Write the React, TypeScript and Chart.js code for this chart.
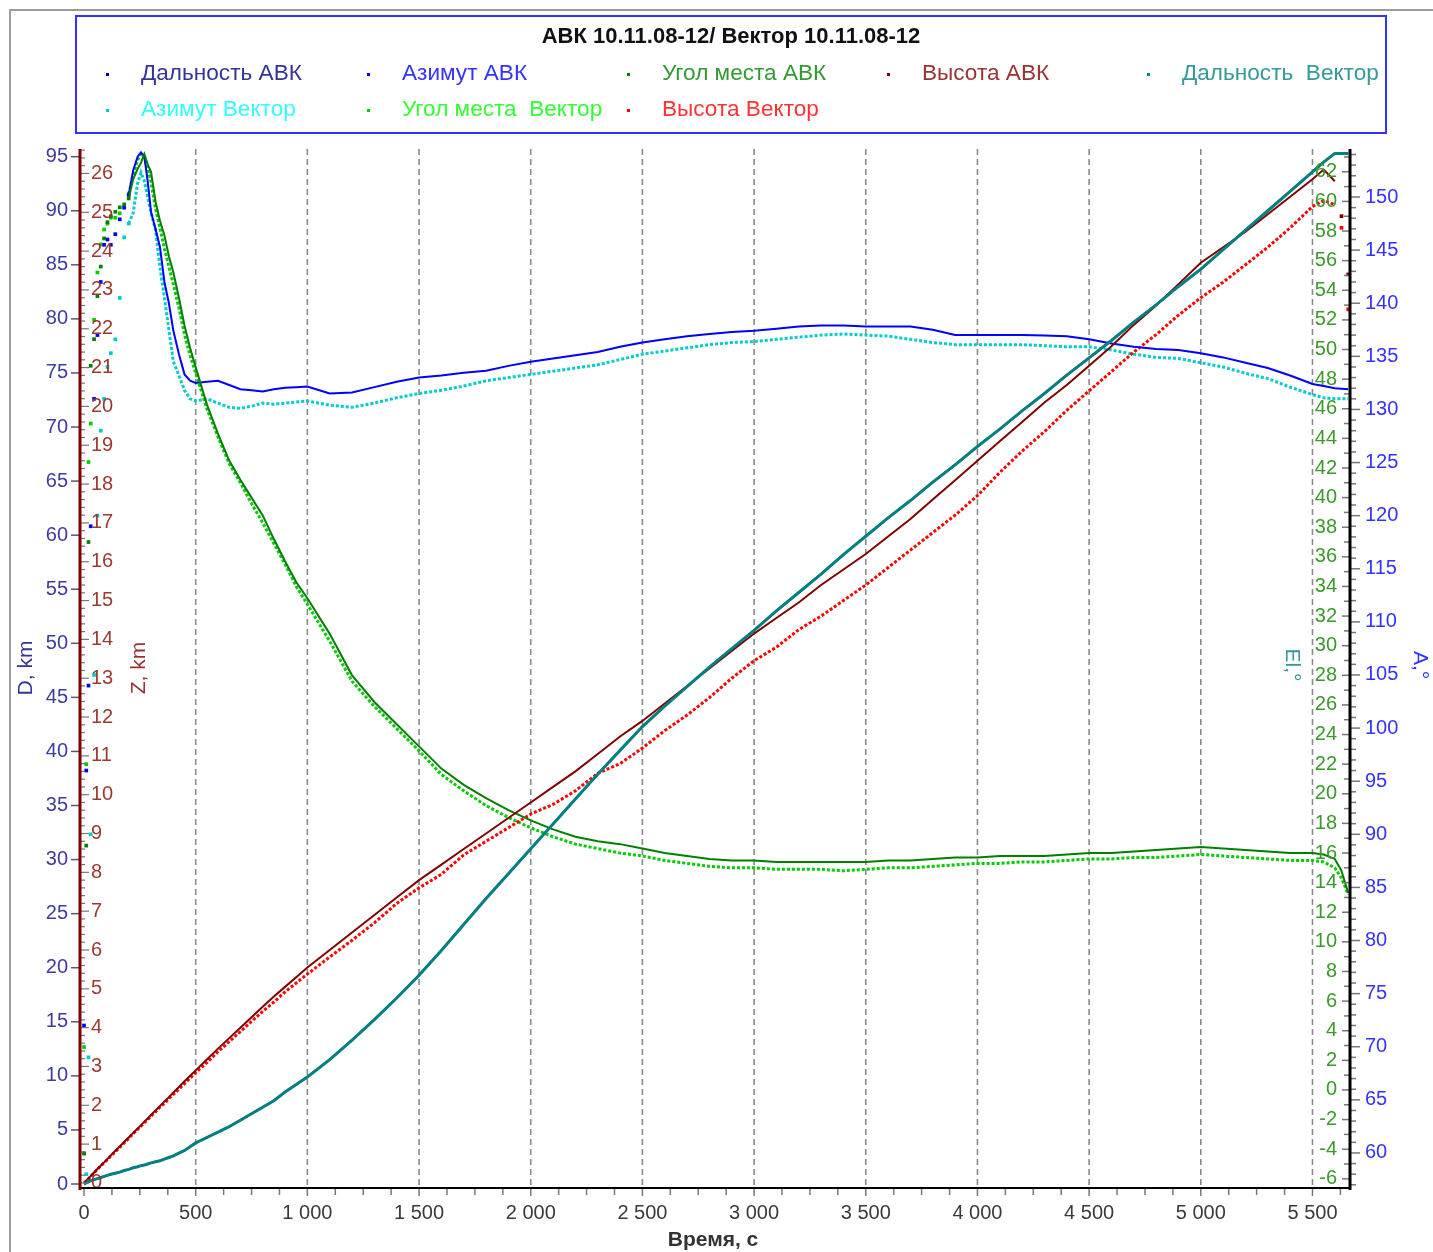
import { useEffect, useRef } from 'react';
import { Chart, registerables } from 'chart.js';

Chart.register(...registerables);

const FONT = "'Liberation Sans', Arial, Helvetica, sans-serif";

// ---------------- data ----------------
const timeSec = [
  0, 10, 20, 30, 45, 60, 75, 90, 105, 120,
  140, 160, 180, 200, 220, 240, 255, 270, 285, 300,
  320, 340, 360, 380, 400, 425, 450, 475, 500,
  550, 600, 650, 700, 750, 800, 850, 900, 950, 1000,
  1100, 1200, 1300, 1400, 1500, 1600, 1700, 1800, 1900, 2000,
  2100, 2200, 2300, 2400, 2500, 2600, 2700, 2800, 2900, 3000,
  3100, 3200, 3300, 3400, 3500, 3600, 3700, 3800, 3900, 4000,
  4100, 4200, 4300, 4400, 4500, 4600, 4700, 4800, 4900, 5000,
  5100, 5200, 5300, 5400, 5500,
  5550, 5600, 5630, 5660,
];

// Дальность, km
const rangeAvk = [
  0, 0.1, 0.2, 0.3, 0.4, 0.5, 0.6, 0.7, 0.8, 0.9,
  1.0, 1.1, 1.25, 1.35, 1.5, 1.6, 1.7, 1.75, 1.85, 1.95,
  2.05, 2.15, 2.3, 2.45, 2.6, 2.85, 3.1, 3.45, 3.8,
  4.3, 4.8, 5.3, 5.9, 6.5, 7.1, 7.7, 8.5, 9.2, 9.9,
  11.5, 13.3, 15.2, 17.2, 19.3, 21.6, 24.0, 26.4, 28.7, 31.0,
  33.3, 35.6, 37.9, 40.1, 42.3, 44.2, 46.0, 47.8, 49.5, 51.2,
  53.0, 54.7, 56.4, 58.2, 59.9, 61.6, 63.2, 64.9, 66.5, 68.2,
  69.8, 71.5, 73.1, 74.8, 76.4, 78.0, 79.7, 81.3, 83.0, 84.6,
  86.4, 88.2, 90.0, 91.8, 93.6,
  94.5, 95.3, 95.3, 95.3,
];
const rangeVector = [
  0, 0.1, 0.2, 0.3, 0.4, 0.5, 0.6, 0.7, 0.8, 0.9,
  1.0, 1.1, 1.25, 1.35, 1.5, 1.6, 1.7, 1.75, 1.85, 1.95,
  2.05, 2.15, 2.3, 2.45, 2.6, 2.85, 3.1, 3.45, 3.8,
  4.3, 4.8, 5.3, 5.9, 6.5, 7.1, 7.7, 8.5, 9.2, 9.9,
  11.5, 13.3, 15.2, 17.2, 19.3, 21.6, 24.0, 26.4, 28.7, 31.0,
  33.3, 35.6, 37.9, 40.1, 42.3, 44.2, 46.0, 47.8, 49.5, 51.2,
  53.0, 54.7, 56.4, 58.2, 59.9, 61.6, 63.2, 64.9, 66.5, 68.2,
  69.8, 71.5, 73.1, 74.8, 76.4, 78.0, 79.7, 81.3, 83.0, 84.6,
  86.4, 88.2, 90.0, 91.8, 93.6,
  94.5, 95.3, 95.3, 95.3,
];

// Азимут, °
const azimuthAvk = [
  72, 96, 104, 119, 131, 137, 142, 145.5, 146, 145.5,
  146.5, 147.9, 149, 150.2, 152.5, 153.8, 154.2, 153.8, 151.5, 148.6,
  147, 145.3, 142, 140, 137.4, 135.2, 133.3, 132.7, 132.5,
  132.6, 132.7, 132.3, 131.9, 131.8, 131.7, 131.9, 132.05, 132.1, 132.15,
  131.5, 131.6, 132.1, 132.6, 133.0, 133.2, 133.45, 133.65, 134.1, 134.5,
  134.8, 135.1, 135.4, 135.9, 136.3, 136.6, 136.9, 137.1, 137.3, 137.4,
  137.6, 137.8, 137.9, 137.9, 137.8, 137.8, 137.8, 137.5, 137.0, 137.0,
  137.0, 137.0, 136.95, 136.9, 136.6, 136.2, 135.9, 135.7, 135.6, 135.3,
  134.9, 134.4, 133.9, 133.2, 132.4,
  132.2, 132.0, 131.95, 131.9,
];
const azimuthVector = [
  60, 58, 69, 90, 105, 120, 128, 131, 134, 135.3,
  136.6, 140.5, 146.2, 147.5, 148.5, 151.3, 152.3, 151.5, 150, 148.5,
  146.9, 143.4, 140.5, 137.5, 134.5, 133.2, 131.8, 131.0, 130.8,
  131.0, 130.6, 130.2, 130.1, 130.3, 130.6, 130.5, 130.6, 130.7, 130.8,
  130.4, 130.2, 130.6, 131.1, 131.5, 131.8, 132.2, 132.7, 133.0, 133.3,
  133.6, 133.9, 134.2, 134.7, 135.2, 135.5, 135.8, 136.1, 136.3, 136.4,
  136.6, 136.8, 137.0, 137.1, 137.0, 136.9, 136.6, 136.3, 136.1, 136.1,
  136.1, 136.1, 136.0, 135.9, 135.9, 135.6, 135.2, 134.9, 134.8, 134.4,
  134.0, 133.4, 132.9, 132.1, 131.4,
  131.1, 131.0, 131.0, 131.0,
];

// Угол места, °
const elevAvk = [
  -4.3, 16.5, 37, 48.9, 50.7, 53.6, 55.6, 57.5, 58.6, 59.0,
  59.3, 59.6, 59.8, 60.2, 61.5, 62.2, 62.6, 63.2, 62.5, 62.0,
  60.0, 58.7, 57.7, 56.3, 55.2, 53.5, 51.6, 50.1, 48.8,
  46.3, 44.3, 42.5, 41.2, 40.0, 38.8, 37.2, 35.7, 34.3, 33.2,
  30.8, 28.0, 26.2, 24.7, 23.2, 21.7, 20.6, 19.7, 18.9, 18.2,
  17.6, 17.1, 16.8, 16.6, 16.3, 16.0, 15.8, 15.6, 15.5, 15.5,
  15.4, 15.4, 15.4, 15.4, 15.4, 15.5, 15.5, 15.6, 15.7, 15.7,
  15.8, 15.8, 15.8, 15.9, 16.0, 16.0, 16.1, 16.2, 16.3, 16.4,
  16.3, 16.2, 16.1, 16.0, 16.0,
  15.9, 15.6, 14.8, 13.3,
];
const elevVector = [
  2.9, 22, 42.4, 45, 52, 55.2, 57.1, 58.1, 58.5, 58.9,
  58.9, 59.2, 59.6, 60.5, 61.8, 62.8, 63.2, 63.0, 62.3, 61.3,
  59.5, 58.2, 56.8, 55.6, 54.4, 52.8, 51.0, 49.6, 48.4,
  46.0, 44.1, 42.3, 41.0, 39.6, 38.3, 36.9, 35.5, 34.0, 32.8,
  30.3, 27.6, 25.9, 24.4, 22.9, 21.3, 20.2, 19.2, 18.4, 17.7,
  17.1, 16.6, 16.3, 16.0, 15.8, 15.5, 15.3, 15.1, 15.0, 15.0,
  14.9, 14.9, 14.9, 14.8, 14.9, 15.0, 15.0, 15.1, 15.2, 15.3,
  15.3, 15.4, 15.4, 15.5, 15.6, 15.6, 15.7, 15.7, 15.8, 15.9,
  15.8, 15.7, 15.6, 15.5, 15.5,
  15.4, 15.0, 14.3, 13.2,
];

// Высота, km
const heightAvk = [
  0, 0.06, 0.12, 0.18, 0.27, 0.36, 0.45, 0.53, 0.62, 0.71,
  0.83, 0.94, 1.06, 1.17, 1.29, 1.4, 1.49, 1.58, 1.66, 1.75,
  1.87, 1.98, 2.1, 2.21, 2.33, 2.47, 2.62, 2.76, 2.9,
  3.18, 3.46, 3.73, 4.0, 4.27, 4.54, 4.8, 5.05, 5.3, 5.55,
  6.0, 6.45, 6.9, 7.35, 7.8, 8.2, 8.6, 9.0, 9.4, 9.8,
  10.2, 10.6, 11.05, 11.5, 11.9, 12.35, 12.8, 13.25, 13.7, 14.15,
  14.55, 14.95, 15.4, 15.8, 16.2, 16.65, 17.1, 17.6, 18.1, 18.6,
  19.1, 19.6, 20.1, 20.55, 21.05, 21.55, 22.1, 22.6, 23.15, 23.7,
  24.1, 24.5, 24.95, 25.4, 25.85,
  26.1, 25.8, 24.9, 23.4,
];
const heightVector = [
  0, 0.05, 0.1, 0.17, 0.26, 0.35, 0.44, 0.52, 0.6, 0.7,
  0.8, 0.92, 1.03, 1.15, 1.27, 1.38, 1.46, 1.55, 1.63, 1.72,
  1.83, 1.95, 2.05, 2.17, 2.28, 2.42, 2.56, 2.7, 2.84,
  3.1, 3.38, 3.64, 3.9, 4.16, 4.42, 4.66, 4.92, 5.15, 5.38,
  5.82, 6.25, 6.7, 7.2, 7.6, 7.95, 8.45, 8.8, 9.15, 9.5,
  9.75, 10.1, 10.55, 10.8, 11.2, 11.65, 12.05, 12.5, 13.0, 13.45,
  13.8, 14.25, 14.6, 15.0, 15.4, 15.85, 16.3, 16.75, 17.2, 17.7,
  18.3, 18.85, 19.35, 19.9, 20.4, 20.9, 21.4, 21.85, 22.35, 22.8,
  23.2, 23.65, 24.1, 24.6, 25.15,
  25.3, 25.2, 24.6, 22.5,
];

// tick labels
const xTickValues = [0, 500, 1000, 1500, 2000, 2500, 3000, 3500, 4000, 4500, 5000, 5500];
const dTickValues = [0, 5, 10, 15, 20, 25, 30, 35, 40, 45, 50, 55, 60, 65, 70, 75, 80, 85, 90, 95];
const zTickValues = [0, 1, 2, 3, 4, 5, 6, 7, 8, 9, 10, 11, 12, 13, 14, 15, 16, 17, 18, 19, 20, 21, 22, 23, 24, 25, 26];
const elTickValues = [-6, -4, -2, 0, 2, 4, 6, 8, 10, 12, 14, 16, 18, 20, 22, 24, 26, 28, 30, 32, 34, 36, 38, 40, 42, 44, 46, 48, 50, 52, 54, 56, 58, 60, 62];
const aTickValues = [60, 65, 70, 75, 80, 85, 90, 95, 100, 105, 110, 115, 120, 125, 130, 135, 140, 145, 150];

const legendTitle = 'АВК 10.11.08-12/ Вектор 10.11.08-12';

// ---------------- layout / style ----------------
const W = 1433;
const H = 1252;
const AREA = { left: 80, right: 1350, top: 149, bottom: 1188 };
const X_RANGE = { min: -18, max: 5668 };
const D_RANGE = { min: -0.37, max: 95.71 };
const Z_RANGE = { min: -0.13, max: 26.63 };
const EL_RANGE = { min: -6.62, max: 63.54 };
const A_RANGE = { min: 56.7, max: 154.52 };

const COL = {
  rangeAvk: '#000099',
  azAvk: '#0000ff',
  elAvk: '#007f00',
  hAvk: '#800000',
  rangeVec: '#008080',
  azVec: '#00cccc',
  elVec: '#00cc00',
  hVec: '#ff0000',
};

type SeriesDef = {
  label: string;
  values: number[];
  axis: string;
  color: string;
  width: number;
  dash: number[];
  dotsTo: number;
  dotsFrom: number;
  order: number;
};

const SERIES: SeriesDef[] = [
  { label: 'Дальность  Вектор', values: rangeVector, axis: 'yD', color: COL.rangeVec, width: 3, dash: [], dotsTo: -1, dotsFrom: 1e9, order: 0 },
  { label: 'Высота АВК', values: heightAvk, axis: 'yZ', color: COL.hAvk, width: 2, dash: [], dotsTo: -1, dotsFrom: 5600, order: 1 },
  { label: 'Угол места АВК', values: elevAvk, axis: 'yEl', color: COL.elAvk, width: 2, dash: [], dotsTo: 200, dotsFrom: 1e9, order: 2 },
  { label: 'Азимут АВК', values: azimuthAvk, axis: 'yA', color: COL.azAvk, width: 2, dash: [], dotsTo: 200, dotsFrom: 1e9, order: 3 },
  { label: 'Дальность АВК', values: rangeAvk, axis: 'yD', color: COL.rangeAvk, width: 2, dash: [], dotsTo: -1, dotsFrom: 1e9, order: 4 },
  { label: 'Высота Вектор', values: heightVector, axis: 'yZ', color: COL.hVec, width: 3, dash: [3, 2], dotsTo: -1, dotsFrom: 5600, order: 5 },
  { label: 'Угол места  Вектор', values: elevVector, axis: 'yEl', color: COL.elVec, width: 3, dash: [3, 2], dotsTo: 200, dotsFrom: 1e9, order: 6 },
  { label: 'Азимут Вектор', values: azimuthVector, axis: 'yA', color: COL.azVec, width: 3, dash: [3, 2], dotsTo: 200, dotsFrom: 1e9, order: 7 },
];

const LEGEND = [
  { text: 'Дальность АВК', color: '#33339a', dot: COL.rangeAvk },
  { text: 'Азимут АВК', color: '#3333ff', dot: COL.azAvk },
  { text: 'Угол места АВК', color: '#339933', dot: COL.elAvk },
  { text: 'Высота АВК', color: '#993333', dot: COL.hAvk },
  { text: 'Дальность  Вектор', color: '#339999', dot: COL.rangeVec },
  { text: 'Азимут Вектор', color: '#33ffff', dot: COL.azVec },
  { text: 'Угол места  Вектор', color: '#33ff33', dot: COL.elVec },
  { text: 'Высота Вектор', color: '#ff3333', dot: COL.hVec },
];
const LEGEND_COLS = [107, 368, 628, 888, 1148];
const LEGEND_ROWS = [73, 109];

function fmtThousands(v: number): string {
  if (Math.abs(v) < 1000) return String(v);
  const th = Math.floor(v / 1000);
  const rest = String(v % 1000).padStart(3, '0');
  return `${th} ${rest}`;
}

function rotText(ctx: CanvasRenderingContext2D, text: string, x: number, y: number, angle: number, color: string, font: string) {
  ctx.save();
  ctx.translate(x, y);
  ctx.rotate(angle);
  ctx.fillStyle = color;
  ctx.font = font;
  ctx.textAlign = 'center';
  ctx.textBaseline = 'middle';
  ctx.fillText(text, 0, 0);
  ctx.restore();
}

const axesPlugin = {
  id: 'radarAxes',
  beforeDatasetsDraw(chart: any) {
    const { ctx, chartArea: a, scales } = chart;
    ctx.save();
    ctx.strokeStyle = '#8a8a8a';
    ctx.lineWidth = 1.6;
    ctx.setLineDash([6, 4]);
    for (const v of xTickValues) {
      if (v === 0) continue;
      const px = scales.x.getPixelForValue(v);
      ctx.beginPath();
      ctx.moveTo(px, a.top);
      ctx.lineTo(px, a.bottom);
      ctx.stroke();
    }
    ctx.restore();
  },
  afterDatasetsDraw(chart: any) {
    const { ctx, chartArea: a, scales } = chart;
    const seg = (x1: number, y1: number, x2: number, y2: number) => {
      ctx.beginPath();
      ctx.moveTo(x1, y1);
      ctx.lineTo(x2, y2);
      ctx.stroke();
    };
    ctx.save();
    ctx.setLineDash([]);

    // D ticks (outside left)
    ctx.strokeStyle = '#555577';
    ctx.lineWidth = 1.5;
    for (const v of dTickValues) {
      const py = scales.yD.getPixelForValue(v);
      seg(a.left - 9, py, a.left - 1, py);
    }

    // Z ticks (inside left)
    ctx.strokeStyle = '#777';
    ctx.lineWidth = 1.2;
    for (let k = 0; k <= 133; k++) {
      const v = k * 0.2;
      const py = scales.yZ.getPixelForValue(v);
      if (py < a.top) break;
      const major = k % 5 === 0;
      seg(a.left + 1, py, a.left + (major ? 9 : 5), py);
    }
    ctx.fillStyle = '#9a3a30';
    ctx.font = `20px ${FONT}`;
    ctx.textAlign = 'left';
    ctx.textBaseline = 'middle';
    for (const v of zTickValues) {
      ctx.fillText(String(v), a.left + 11, scales.yZ.getPixelForValue(v));
    }

    // El ticks (inside right)
    ctx.strokeStyle = '#777';
    ctx.lineWidth = 1.5;
    for (let v = -6; v <= 63; v++) {
      const py = scales.yEl.getPixelForValue(v);
      seg(a.right - (v % 2 === 0 ? 8 : 6), py, a.right - 1, py);
    }
    ctx.fillStyle = '#3a9a2a';
    ctx.textAlign = 'right';
    for (const v of elTickValues) {
      ctx.fillText(String(v), a.right - 13, scales.yEl.getPixelForValue(v));
    }

    // A ticks (outside right)
    ctx.strokeStyle = '#777';
    for (let v = 57; v <= 154; v++) {
      const py = scales.yA.getPixelForValue(v);
      seg(a.right + 1, py, a.right + (v % 5 === 0 ? 10 : 6), py);
    }

    // x ticks
    for (let v = 0; v <= 5625; v += 125) {
      const px = scales.x.getPixelForValue(v);
      seg(px, a.bottom + 1, px, a.bottom + (v % 500 === 0 ? 8 : 7));
    }

    // axis lines
    ctx.strokeStyle = '#000';
    ctx.lineWidth = 2;
    seg(a.left, a.bottom, a.right, a.bottom);
    ctx.lineWidth = 3;
    seg(a.right, a.top, a.right, a.bottom + 2);
    ctx.strokeStyle = '#800000';
    seg(a.left, a.top, a.left, a.bottom + 2);

    // titles
    const tf = `21px ${FONT}`;
    rotText(ctx, 'D, km', 26, 668, -Math.PI / 2, '#333399', tf);
    rotText(ctx, 'Z, km', 139, 668, -Math.PI / 2, '#993333', tf);
    rotText(ctx, 'El,°', 1292, 665, Math.PI / 2, '#339999', tf);
    rotText(ctx, 'A,°', 1420, 665, Math.PI / 2, '#3333ff', tf);
    ctx.fillStyle = '#333';
    ctx.font = `bold 21px ${FONT}`;
    ctx.textAlign = 'center';
    ctx.textBaseline = 'middle';
    ctx.fillText('Время, с', 713, 1240);
    ctx.restore();
  },
};

function hiddenScale(pos: string, range: { min: number; max: number }) {
  return {
    type: 'linear',
    position: pos,
    display: false,
    min: range.min,
    max: range.max,
  };
}

export default function App() {
  const ref = useRef<HTMLCanvasElement>(null);

  useEffect(() => {
    const canvas = ref.current;
    if (!canvas) return;
    const datasets = SERIES.map((s) => ({
      label: s.label,
      data: timeSec.map((t, i) => ({ x: t, y: s.values[i] })),
      yAxisID: s.axis,
      borderColor: s.color,
      backgroundColor: s.color,
      borderWidth: s.width,
      borderDash: s.dash,
      pointStyle: 'rect',
      pointBorderWidth: 0,
      pointRadius: (c: any) => {
        const r = c.raw;
        if (!r) return 0;
        return r.x <= s.dotsTo || r.x > s.dotsFrom ? 2.6 : 0;
      },
      tension: 0,
      order: s.order,
      segment: {
        borderColor: (c: any) =>
          c.p1.parsed.x <= s.dotsTo || c.p0.parsed.x >= s.dotsFrom ? 'rgba(0,0,0,0)' : undefined,
      },
    }));

    const chart = new Chart(canvas, {
      type: 'line',
      data: { datasets } as any,
      options: {
        responsive: false,
        animation: false,
        events: [],
        layout: { padding: { top: AREA.top, left: 0, right: 0, bottom: 0 } },
        plugins: {
          legend: { display: false },
          tooltip: { enabled: false },
          title: { display: false },
        },
        scales: {
          x: {
            type: 'linear',
            position: 'bottom',
            min: X_RANGE.min,
            max: X_RANGE.max,
            afterBuildTicks: (sc: any) => {
              sc.ticks = xTickValues.map((v) => ({ value: v }));
            },
            afterFit: (sc: any) => {
              sc.height = H - AREA.bottom;
            },
            grid: { display: false, drawTicks: false },
            border: { display: false },
            ticks: {
              autoSkip: false,
              maxRotation: 0,
              padding: 13,
              color: '#3a3a3a',
              font: { size: 20, family: FONT },
              callback: (v: any) => fmtThousands(Number(v)),
            },
          },
          yD: {
            type: 'linear',
            position: 'left',
            min: D_RANGE.min,
            max: D_RANGE.max,
            afterBuildTicks: (sc: any) => {
              sc.ticks = dTickValues.map((v) => ({ value: v }));
            },
            afterFit: (sc: any) => {
              sc.width = AREA.left;
            },
            grid: { display: false, drawTicks: false },
            border: { display: false },
            ticks: {
              padding: 12,
              color: '#3c3ca0',
              font: { size: 20, family: FONT },
              callback: (v: any) => String(v),
            },
          },
          yZ: hiddenScale('left', Z_RANGE),
          yEl: hiddenScale('right', EL_RANGE),
          yA: {
            type: 'linear',
            position: 'right',
            min: A_RANGE.min,
            max: A_RANGE.max,
            afterBuildTicks: (sc: any) => {
              sc.ticks = aTickValues.map((v) => ({ value: v }));
            },
            afterFit: (sc: any) => {
              sc.width = W - AREA.right;
            },
            grid: { display: false, drawTicks: false },
            border: { display: false },
            ticks: {
              padding: 15,
              color: '#3333ff',
              font: { size: 20, family: FONT },
              callback: (v: any) => String(v),
            },
          },
        },
      } as any,
      plugins: [axesPlugin],
    });
    return () => chart.destroy();
  }, []);

  return (
    <div
      style={{
        position: 'absolute',
        left: 0,
        top: 0,
        width: W,
        height: H,
        background: '#ffffff',
        overflow: 'hidden',
        fontFamily: FONT,
      }}
    >
      <div style={{ position: 'absolute', left: 9, top: 9, width: 2, height: H, background: '#9c9c9c' }} />
      <div style={{ position: 'absolute', left: 9, top: 9, width: W, height: 2, background: '#9c9c9c' }} />
      <canvas ref={ref} width={W} height={H} style={{ position: 'absolute', left: 0, top: 0 }} />
      <div
        style={{
          position: 'absolute',
          left: 75,
          top: 15,
          width: 1312,
          height: 119,
          border: '2px solid #3333ff',
          boxSizing: 'border-box',
        }}
      />
      <div
        style={{
          position: 'absolute',
          left: 75,
          width: 1312,
          top: 24,
          lineHeight: '24px',
          fontSize: 22,
          fontWeight: 'bold',
          textAlign: 'center',
          color: '#111',
          whiteSpace: 'pre',
        }}
      >
        {legendTitle}
      </div>
      {LEGEND.map((item, i) => {
        const col = i % 5;
        const row = Math.floor(i / 5);
        const cx = LEGEND_COLS[col];
        const cy = LEGEND_ROWS[row];
        return (
          <div key={item.text}>
            <div
              style={{
                position: 'absolute',
                left: cx - 1.5,
                top: cy - 0.5,
                width: 3,
                height: 3,
                background: item.dot,
              }}
            />
            <div
              style={{
                position: 'absolute',
                left: cx + 34,
                top: cy - 12,
                lineHeight: '24px',
                fontSize: 22.6,
                color: item.color,
                whiteSpace: 'pre',
              }}
            >
              {item.text}
            </div>
          </div>
        );
      })}
    </div>
  );
}
